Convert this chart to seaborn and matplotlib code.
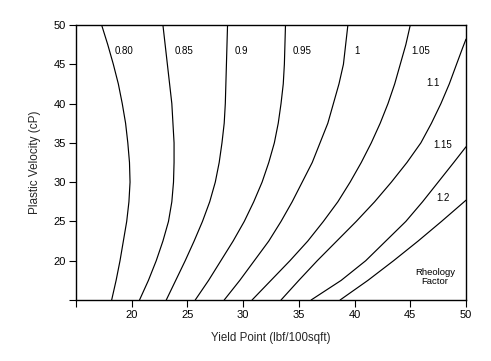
import matplotlib
matplotlib.use("Agg")
import matplotlib.pyplot as plt
import numpy as np
import pandas as pd
import seaborn as sns

# Rheology factor curves: Yield Point (x) vs Plastic Velocity (y)
factors = ["0.80", "0.85", "0.9", "0.95", "1", "1.05", "1.1", "1.15", "1.2"]

pv_levels = [50, 47.5, 45, 42.5, 40, 37.5, 35, 32.5, 30, 27.5, 25, 22.5, 20, 17.5, 15]

yp_080 = [17.3, 17.85, 18.35, 18.8, 19.15, 19.45, 19.65, 19.8, 19.85, 19.75, 19.55, 19.25, 18.95, 18.6, 18.2]
pv_080 = pv_levels

yp_085 = [22.8, 23.0, 23.2, 23.4, 23.6, 23.7, 23.8, 23.8, 23.75, 23.6, 23.3, 22.8, 22.2, 21.5, 20.7]
pv_085 = pv_levels

yp_090 = [28.6, 28.55, 28.5, 28.45, 28.4, 28.3, 28.1, 27.85, 27.5, 27.0, 26.35, 25.6, 24.8, 23.95, 23.1]
pv_090 = pv_levels

yp_095 = [33.8, 33.75, 33.7, 33.6, 33.4, 33.15, 32.8, 32.3, 31.7, 30.95, 30.1, 29.1, 28.0, 26.9, 25.7]
pv_095 = pv_levels

yp_100 = [39.4, 39.2, 39.0, 38.6, 38.1, 37.6, 36.9, 36.2, 35.3, 34.4, 33.4, 32.3, 31.0, 29.7, 28.3]
pv_100 = pv_levels

yp_105 = [45.0, 44.6, 44.1, 43.6, 43.0, 42.3, 41.5, 40.6, 39.6, 38.5, 37.2, 35.8, 34.2, 32.5, 30.8]
pv_105 = pv_levels

yp_110 = [50, 49.7, 49.15, 48.5, 47.75, 46.9, 45.95, 44.7, 43.3, 41.8, 40.15, 38.4, 36.65, 35.0, 33.4]
pv_110 = [48.2, 47.1, 45, 42.5, 40, 37.5, 35, 32.5, 30, 27.5, 25, 22.5, 20, 17.5, 15]

yp_115 = [50, 48.9, 47.5, 46.1, 44.6, 42.8, 41.0, 38.8, 36.1]
pv_115 = [34.5, 32.5, 30, 27.5, 25, 22.5, 20, 17.5, 15]

yp_120 = [50, 47.8, 45.7, 43.5, 41.2, 38.7]
pv_120 = [27.7, 25, 22.5, 20, 17.5, 15]

curves_x = [yp_080, yp_085, yp_090, yp_095, yp_100, yp_105, yp_110, yp_115, yp_120]
curves_y = [pv_080, pv_085, pv_090, pv_095, pv_100, pv_105, pv_110, pv_115, pv_120]

frames = []
for f, xs, ys in zip(factors, curves_x, curves_y):
    frames.append(pd.DataFrame({"yp": xs, "pv": ys, "factor": f}))
df = pd.concat(frames, ignore_index=True)

sns.set_theme(style="ticks")
plt.rcParams["font.family"] = ["Liberation Sans", "DejaVu Sans"]

fig = plt.figure(figsize=(4.91, 3.61), dpi=100)
ax = fig.add_axes([76 / 491, 1 - 300 / 361, 390 / 491, 275 / 361])

sns.lineplot(data=df, x="yp", y="pv", units="factor", estimator=None,
             sort=False, color="black", linewidth=0.85, ax=ax, legend=False)

# contour labels
label_pos = {
    "0.80": (19.3, 46.7), "0.85": (24.7, 46.7), "0.9": (29.8, 46.7),
    "0.95": (35.3, 46.7), "1": (40.2, 46.7), "1.05": (45.9, 46.7),
    "1.1": (47.0, 42.6), "1.15": (47.9, 34.7), "1.2": (47.9, 28.0),
}
for f in factors:
    x, y = label_pos[f]
    ax.text(x, y, f, ha="center", va="center", fontsize=7, color="black")

ax.text(47.2, 17.9, "Rheology\nFactor", ha="center", va="center",
        fontsize=6.8, linespacing=1.0, color="black")

ax.set_xlim(15, 50)
ax.set_ylim(15, 50)
ticks = [15, 20, 25, 30, 35, 40, 45, 50]
ax.set_xticks(ticks)
ax.set_yticks(ticks)
ax.set_xticklabels([""] + [str(t) for t in ticks[1:]])
ax.set_yticklabels([""] + [str(t) for t in ticks[1:]])
ax.tick_params(direction="out", length=5, width=0.8, labelsize=8,
               pad=2, colors="black")
for s in ax.spines.values():
    s.set_visible(True)
    s.set_linewidth(1.0)
    s.set_color("black")

ax.set_xlabel("Yield Point (lbf/100sqft)", fontsize=8.3, labelpad=9)
ax.set_ylabel("Plastic Velocity (cP)", fontsize=8.5, labelpad=9)

fig.savefig("out.png", dpi=100, facecolor="white")
